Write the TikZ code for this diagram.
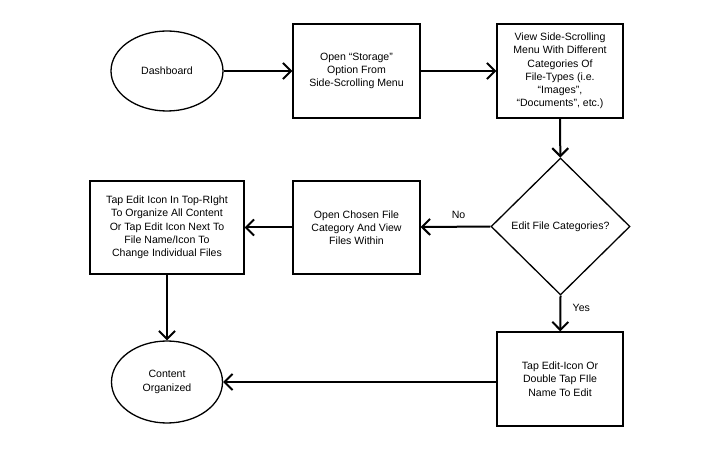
\documentclass[tikz,border=0pt]{standalone}
\usepackage{fontspec}
\setmainfont{Liberation Sans}
\usepackage{tikz}
\usetikzlibrary{shapes.geometric}
\usetikzlibrary{arrows.meta}

\tikzset{
  box/.style={rectangle,draw,line width=1.3bp,align=center,inner sep=0pt},
  term/.style={ellipse,draw,line width=1.3bp,align=center,inner sep=0pt},
  choice/.style={diamond,draw,line width=1.3bp,align=center,inner sep=0pt},
  flow/.style={line width=2bp,-{Straight Barb[length=8bp,width=16bp,line width=2bp]}}
}

\begin{document}
\begin{tikzpicture}[x=1bp, y=-1bp, font=\fontsize{10.6}{13.3}\selectfont]
  \useasboundingbox (0,0) rectangle (720,450);

  % Nodes
  \draw (167,71) node(dash) [term,minimum width=112bp,minimum height=80bp] {Dashboard};
  \draw (356.5,71) node(storage) [box,minimum width=127bp,minimum height=94bp]
    {Open ``Storage''\\Option From\\Side-Scrolling Menu};
  \draw (560,71) node(view) [box,minimum width=126bp,minimum height=94bp]
    {View Side-Scrolling\\Menu With Different\\Categories Of\\File-Types (i.e.\\``Images'',\\``Documents'', etc.)};
  \draw (560.5,226.5) node(edit) [choice,minimum width=139bp,minimum height=137bp] {Edit File Categories?};
  \draw (356.5,227.5) node(open) [box,minimum width=127bp,minimum height=93bp]
    {Open Chosen File\\Category And View\\Files Within};
  \draw (167,227.5) node(tap) [box,minimum width=154bp,minimum height=93bp]
    {Tap Edit Icon In Top-RIght\\To Organize All Content\\Or Tap Edit Icon Next To\\File Name/Icon To\\Change Individual Files};
  \draw (560,379) node(tapicon) [box,minimum width=126bp,minimum height=94bp]
    {Tap Edit-Icon Or\\Double Tap FIle\\Name To Edit};
  \draw (167,382) node(done) [term,minimum width=111bp,minimum height=82bp] {Content\\Organized};

  % Edges
  \path[flow] (dash) edge (storage);
  \path[flow] (storage) edge (view);
  \path[flow] (view) edge (edit);
  \path[flow] (edit.west) edge node[above,yshift=4bp,xshift=3bp] {No} (open);
  \path[flow] (open) edge (tap);
  \path[flow] (tap) edge (done);
  \path[flow] (edit.south) edge node[right,xshift=8bp,yshift=6bp] {Yes} (tapicon);
  \path[flow] (tapicon.west |- done.east) edge (done.east);

\end{tikzpicture}
\end{document}
